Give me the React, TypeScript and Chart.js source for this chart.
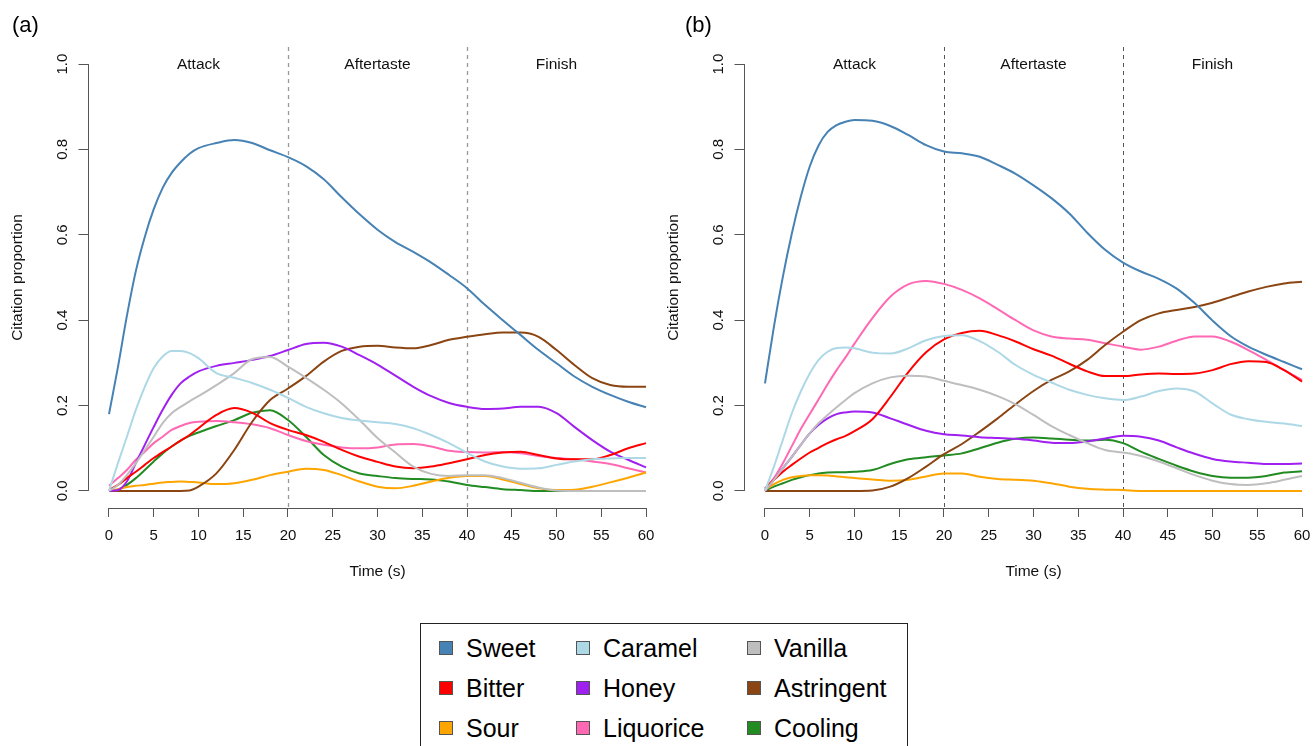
import React, { useEffect, useRef } from "react";
import { Chart, registerables } from "chart.js";

Chart.register(...registerables);

// ---------- data ----------
const times = [0, 1, 2, 3, 4, 5, 6, 7, 8, 9, 10, 12, 14, 16, 18, 20, 22, 24, 26, 28, 30, 32, 34, 36, 38, 40, 42, 44, 46, 48, 50, 52, 54, 56, 58, 60];
const xTicks = [0, 5, 10, 15, 20, 25, 30, 35, 40, 45, 50, 55, 60];
const yTicks = [0, 0.2, 0.4, 0.6, 0.8, 1.0];
const yTickLabels = ["0.0", "0.2", "0.4", "0.6", "0.8", "1.0"];
const phaseNames = ["Attack", "Aftertaste", "Finish"];
const phaseCenters = [10, 30, 50];
const phaseBounds = [20, 40];
const xTitle = "Time (s)";
const yTitle = "Citation proportion";

const attributes = ["Sweet", "Caramel", "Vanilla", "Bitter", "Honey", "Astringent", "Sour", "Liquorice", "Cooling"];
const colors = ["#4682B4", "#ADD8E6", "#BEBEBE", "#FF0000", "#A020F0", "#8B4513", "#FFA500", "#FF69B4", "#228B22"];

// Panel (a)
const sweetA = [0.18, 0.29, 0.41, 0.515, 0.595, 0.66, 0.71, 0.745, 0.77, 0.79, 0.803, 0.815, 0.822, 0.815, 0.798, 0.782, 0.761, 0.73, 0.688, 0.648, 0.612, 0.583, 0.56, 0.535, 0.506, 0.475, 0.436, 0.4, 0.365, 0.33, 0.299, 0.268, 0.244, 0.225, 0.209, 0.196];
const caramelA = [0, 0.065, 0.127, 0.19, 0.244, 0.288, 0.315, 0.328, 0.328, 0.323, 0.311, 0.276, 0.265, 0.253, 0.237, 0.218, 0.197, 0.182, 0.171, 0.165, 0.161, 0.157, 0.147, 0.131, 0.112, 0.089, 0.069, 0.057, 0.052, 0.053, 0.061, 0.069, 0.074, 0.076, 0.077, 0.077];
const vanillaA = [0, 0.014, 0.037, 0.065, 0.096, 0.127, 0.159, 0.182, 0.197, 0.21, 0.222, 0.248, 0.276, 0.309, 0.314, 0.291, 0.265, 0.237, 0.205, 0.166, 0.124, 0.09, 0.057, 0.04, 0.035, 0.037, 0.037, 0.03, 0.019, 0.008, 0.001, 0, 0, 0, 0, 0];
const bitterA = [0.002, 0.014, 0.03, 0.045, 0.061, 0.077, 0.091, 0.104, 0.118, 0.131, 0.147, 0.178, 0.194, 0.183, 0.159, 0.143, 0.131, 0.115, 0.096, 0.08, 0.068, 0.057, 0.053, 0.057, 0.065, 0.074, 0.084, 0.09, 0.092, 0.084, 0.076, 0.074, 0.074, 0.084, 0.1, 0.112];
const honeyA = [0, 0.002, 0.022, 0.065, 0.108, 0.15, 0.19, 0.225, 0.252, 0.268, 0.28, 0.293, 0.3, 0.307, 0.316, 0.33, 0.344, 0.347, 0.338, 0.318, 0.296, 0.27, 0.244, 0.222, 0.206, 0.197, 0.192, 0.193, 0.197, 0.197, 0.182, 0.15, 0.119, 0.092, 0.073, 0.055];
const astringentA = [0, 0, 0, 0, 0, 0, 0, 0, 0, 0.001, 0.01, 0.041, 0.096, 0.162, 0.213, 0.24, 0.269, 0.303, 0.328, 0.338, 0.34, 0.336, 0.334, 0.342, 0.354, 0.361, 0.367, 0.371, 0.371, 0.361, 0.33, 0.295, 0.264, 0.248, 0.244, 0.244];
const sourA = [0, 0.004, 0.009, 0.012, 0.014, 0.017, 0.02, 0.021, 0.022, 0.021, 0.02, 0.016, 0.018, 0.026, 0.037, 0.045, 0.052, 0.049, 0.037, 0.022, 0.01, 0.006, 0.012, 0.022, 0.031, 0.035, 0.035, 0.027, 0.016, 0.006, 0.002, 0.003, 0.01, 0.02, 0.031, 0.043];
const liquoriceA = [0.012, 0.03, 0.049, 0.073, 0.092, 0.112, 0.127, 0.143, 0.152, 0.159, 0.162, 0.164, 0.161, 0.156, 0.147, 0.131, 0.117, 0.108, 0.102, 0.1, 0.102, 0.109, 0.11, 0.104, 0.094, 0.091, 0.09, 0.091, 0.088, 0.082, 0.077, 0.074, 0.069, 0.063, 0.053, 0.043];
const coolingA = [0, 0.003, 0.014, 0.03, 0.049, 0.069, 0.088, 0.104, 0.118, 0.129, 0.137, 0.152, 0.166, 0.183, 0.189, 0.166, 0.127, 0.084, 0.057, 0.041, 0.035, 0.03, 0.028, 0.027, 0.022, 0.014, 0.009, 0.004, 0.002, 0, 0, 0, 0, 0, 0, 0];

// Panel (b)
const sweetB = [0.252, 0.385, 0.502, 0.603, 0.689, 0.76, 0.81, 0.841, 0.857, 0.865, 0.869, 0.867, 0.855, 0.834, 0.81, 0.795, 0.791, 0.783, 0.764, 0.743, 0.716, 0.686, 0.65, 0.605, 0.565, 0.535, 0.514, 0.497, 0.474, 0.44, 0.399, 0.363, 0.338, 0.319, 0.302, 0.285];
const caramelB = [0, 0.057, 0.12, 0.182, 0.233, 0.275, 0.307, 0.326, 0.335, 0.336, 0.334, 0.324, 0.322, 0.334, 0.353, 0.363, 0.365, 0.351, 0.326, 0.295, 0.272, 0.254, 0.237, 0.225, 0.217, 0.213, 0.221, 0.234, 0.24, 0.233, 0.205, 0.179, 0.168, 0.162, 0.158, 0.152];
const vanillaB = [0, 0.026, 0.053, 0.08, 0.108, 0.135, 0.159, 0.178, 0.196, 0.213, 0.229, 0.252, 0.266, 0.27, 0.268, 0.258, 0.248, 0.237, 0.222, 0.203, 0.178, 0.152, 0.131, 0.112, 0.096, 0.09, 0.082, 0.069, 0.053, 0.037, 0.024, 0.016, 0.014, 0.018, 0.026, 0.035];
const bitterB = [0.006, 0.026, 0.045, 0.061, 0.076, 0.09, 0.101, 0.112, 0.121, 0.129, 0.14, 0.168, 0.22, 0.278, 0.325, 0.355, 0.37, 0.375, 0.365, 0.35, 0.332, 0.317, 0.298, 0.28, 0.269, 0.269, 0.273, 0.275, 0.274, 0.275, 0.283, 0.297, 0.304, 0.302, 0.283, 0.256];
const honeyB = [0, 0.026, 0.053, 0.08, 0.108, 0.135, 0.155, 0.17, 0.18, 0.184, 0.186, 0.184, 0.17, 0.155, 0.141, 0.133, 0.13, 0.126, 0.124, 0.122, 0.118, 0.113, 0.112, 0.116, 0.123, 0.129, 0.127, 0.118, 0.102, 0.087, 0.075, 0.069, 0.066, 0.063, 0.063, 0.064];
const astringentB = [0, 0, 0, 0, 0, 0, 0, 0, 0, 0, 0, 0.001, 0.01, 0.03, 0.057, 0.086, 0.11, 0.139, 0.17, 0.203, 0.234, 0.26, 0.28, 0.307, 0.342, 0.373, 0.4, 0.416, 0.424, 0.431, 0.441, 0.454, 0.467, 0.478, 0.486, 0.49];
const sourB = [0.002, 0.016, 0.026, 0.032, 0.035, 0.037, 0.037, 0.036, 0.034, 0.032, 0.03, 0.027, 0.024, 0.026, 0.034, 0.041, 0.041, 0.033, 0.028, 0.026, 0.024, 0.018, 0.01, 0.005, 0.003, 0.002, 0, 0, 0, 0, 0, 0, 0, 0, 0, 0];
const liquoriceB = [0.004, 0.03, 0.065, 0.105, 0.145, 0.18, 0.215, 0.25, 0.283, 0.313, 0.345, 0.405, 0.455, 0.484, 0.492, 0.485, 0.471, 0.451, 0.426, 0.4, 0.376, 0.362, 0.357, 0.354, 0.346, 0.338, 0.331, 0.338, 0.352, 0.362, 0.362, 0.35, 0.33, 0.307, 0.283, 0.26];
const coolingB = [0, 0.01, 0.018, 0.026, 0.032, 0.037, 0.041, 0.043, 0.044, 0.044, 0.045, 0.049, 0.063, 0.074, 0.079, 0.083, 0.088, 0.1, 0.113, 0.122, 0.125, 0.123, 0.12, 0.118, 0.12, 0.112, 0.092, 0.075, 0.059, 0.045, 0.035, 0.031, 0.031, 0.035, 0.043, 0.046];

const seriesA = [sweetA, caramelA, vanillaA, bitterA, honeyA, astringentA, sourA, liquoriceA, coolingA];
const seriesB = [sweetB, caramelB, vanillaB, bitterB, honeyB, astringentB, sourB, liquoriceB, coolingB];

const FONT = '"Liberation Sans", Arial, Helvetica, sans-serif';

type PanelProps = {
  label: string;
  series: number[][];
  left: number;
  letterX: number;
  dashColor: string;
  dashWidth: number;
};

function Panel({ label, series, left, letterX, dashColor, dashWidth }: PanelProps) {
  const ref = useRef<HTMLCanvasElement>(null);

  useEffect(() => {
    const canvas = ref.current;
    if (!canvas) return;

    const rStyle = {
      id: "rStyle",
      beforeDatasetsDraw(chart: any) {
        const { ctx, chartArea, scales } = chart;
        ctx.save();
        ctx.strokeStyle = dashColor;
        ctx.lineWidth = dashWidth;
        ctx.setLineDash([4, 4]);
        for (const b of phaseBounds) {
          const x = Math.round(scales.x.getPixelForValue(b)) + 0.5;
          ctx.beginPath();
          ctx.moveTo(x, chartArea.top);
          ctx.lineTo(x, chartArea.bottom);
          ctx.stroke();
        }
        ctx.restore();
      },
      afterDraw(chart: any) {
        const { ctx, chartArea, scales } = chart;
        const xs = scales.x;
        const ys = scales.y;
        ctx.save();
        // axis lines (R style: from first to last tick)
        ctx.strokeStyle = "#555";
        ctx.lineWidth = 1;
        ctx.beginPath();
        const by = Math.round(chartArea.bottom) + 0.5;
        ctx.moveTo(xs.getPixelForValue(xTicks[0]), by);
        ctx.lineTo(xs.getPixelForValue(xTicks[xTicks.length - 1]), by);
        const lx = Math.round(chartArea.left) + 0.5;
        ctx.moveTo(lx, ys.getPixelForValue(yTicks[0]));
        ctx.lineTo(lx, ys.getPixelForValue(yTicks[yTicks.length - 1]));
        ctx.stroke();

        ctx.fillStyle = "#111";
        // y tick labels, rotated
        ctx.font = `15px ${FONT}`;
        ctx.textAlign = "center";
        ctx.textBaseline = "middle";
        yTicks.forEach((v, i) => {
          ctx.save();
          ctx.translate(chartArea.left - 25, ys.getPixelForValue(v));
          ctx.rotate(-Math.PI / 2);
          ctx.fillText(yTickLabels[i], 0, 0);
          ctx.restore();
        });

        // axis titles
        ctx.font = `15.5px ${FONT}`;
        ctx.fillText(xTitle, (chartArea.left + chartArea.right) / 2, chartArea.bottom + 64);
        ctx.save();
        ctx.translate(chartArea.left - 70, (chartArea.top + chartArea.bottom) / 2);
        ctx.rotate(-Math.PI / 2);
        ctx.fillText(yTitle, 0, 0);
        ctx.restore();

        // phase labels
        ctx.font = `15.5px ${FONT}`;
        phaseNames.forEach((name, i) => {
          ctx.fillText(name, xs.getPixelForValue(phaseCenters[i]), ys.getPixelForValue(1.0) + 1);
        });

        // panel letter
        ctx.font = `22px ${FONT}`;
        ctx.textAlign = "left";
        ctx.fillStyle = "#000";
        ctx.fillText(label, letterX, 26);
        ctx.restore();
      },
    };

    const chart = new Chart(canvas, {
      type: "line",
      data: {
        datasets: series.map((vals, i) => ({
          label: attributes[i],
          data: times.map((t, j) => ({ x: t, y: vals[j] })),
          borderColor: colors[i],
          backgroundColor: colors[i],
          borderWidth: 2,
          pointRadius: 0,
          fill: false,
          cubicInterpolationMode: "monotone" as const,
        })),
      },
      options: {
        responsive: false,
        animation: false,
        devicePixelRatio: 1,
        layout: { padding: { left: 0, right: 32.5, top: 47, bottom: 0 } },
        plugins: { legend: { display: false }, tooltip: { enabled: false } },
        events: [],
        scales: {
          x: {
            type: "linear",
            min: -2.4,
            max: 62.4,
            afterBuildTicks: (s: any) => {
              s.ticks = xTicks.map((v) => ({ value: v }));
            },
            afterFit: (s: any) => {
              s.height = 92;
            },
            grid: { display: true, drawOnChartArea: false, drawTicks: true, tickLength: 9, tickColor: "#555", lineWidth: 1 },
            border: { display: false },
            ticks: {
              color: "#111",
              font: { family: FONT, size: 15 },
              padding: 10,
              maxRotation: 0,
              minRotation: 0,
              autoSkip: false,
              callback: (v: any) => String(v),
            },
          },
          y: {
            type: "linear",
            min: -0.04,
            max: 1.04,
            afterBuildTicks: (s: any) => {
              s.ticks = yTicks.map((v) => ({ value: v }));
            },
            afterFit: (s: any) => {
              s.width = 87.5;
            },
            grid: { display: true, drawOnChartArea: false, drawTicks: true, tickLength: 9, tickColor: "#555", lineWidth: 1 },
            border: { display: false },
            ticks: { display: false },
          },
        },
      },
      plugins: [rStyle],
    } as any);

    return () => chart.destroy();
  }, []);

  return (
    <canvas
      ref={ref}
      width={700}
      height={600}
      style={{ position: "absolute", left, top: 0, width: 700, height: 600 }}
    />
  );
}

function Legend() {
  return (
    <div
      style={{
        position: "absolute",
        left: 420,
        top: 623,
        width: 488,
        height: 160,
        border: "1px solid #222",
        boxSizing: "border-box",
        paddingTop: 4,
        paddingLeft: 18,
        display: "grid",
        gridTemplateColumns: "137px 171px auto",
        gridAutoRows: "40px",
        fontFamily: FONT,
        fontSize: 25,
        color: "#000",
        background: "#fff",
      }}
    >
      {attributes.map((name, i) => (
        <div key={name} style={{ display: "flex", alignItems: "center", height: 40 }}>
          <span
            style={{
              display: "inline-block",
              width: 14,
              height: 14,
              boxSizing: "border-box",
              background: colors[i],
              border: "1px solid #555",
              marginRight: 13,
            }}
          />
          <span style={{ lineHeight: "40px" }}>{name}</span>
        </div>
      ))}
    </div>
  );
}

export default function App() {
  return (
    <div
      style={{
        position: "absolute",
        left: 0,
        top: 0,
        width: 1314,
        height: 746,
        overflow: "hidden",
        background: "#fff",
      }}
    >
      <Panel label="(a)" series={seriesA} left={0} letterX={12} dashColor="#999" dashWidth={1.3} />
      <Panel label="(b)" series={seriesB} left={656} letterX={29} dashColor="#555" dashWidth={1} />
      <Legend />
    </div>
  );
}
